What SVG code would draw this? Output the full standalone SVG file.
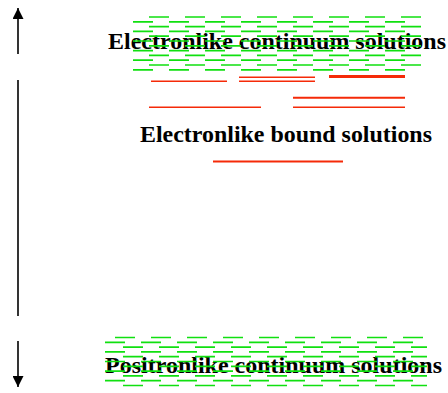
<svg xmlns="http://www.w3.org/2000/svg" width="448" height="393" viewBox="0 0 448 393">
<defs>
<style>
.lbl{font-family:"Liberation Serif","Times New Roman",serif;font-weight:bold;font-size:22.5px;fill:#000}
.g{stroke:#10e010;stroke-width:1.7;stroke-dasharray:20 16;fill:none}
.r{stroke:#f52a08;fill:none}
.ax{stroke:#000;stroke-width:1.6;fill:none}
</style>
<marker id="ah" viewBox="0 0 10 10" refX="10" refY="5" markerWidth="11" markerHeight="11" markerUnits="userSpaceOnUse" orient="auto">
<path d="M0,0 L10,5 L0,10 Z" fill="#000"/>
</marker>
</defs>
<rect width="448" height="393" fill="#fff"/>
<g id="connectors">
<line class="ax" x1="18" y1="54" x2="18" y2="8" marker-end="url(#ah)"/>
<line class="ax" x1="18" y1="80" x2="18" y2="316"/>
<line class="ax" x1="18" y1="341" x2="18" y2="387" marker-end="url(#ah)"/>
</g>
<g id="electron-continuum">
<text class="lbl" x="108" y="48.5" textLength="338" lengthAdjust="spacingAndGlyphs">Electronlike continuum solutions</text>
<line class="g" x1="149" y1="17" x2="421" y2="17"/>
<line class="g" x1="133" y1="21.8" x2="405" y2="21.8"/>
<line class="g" x1="149" y1="26.6" x2="421" y2="26.6"/>
<line class="g" x1="133" y1="31.4" x2="405" y2="31.4"/>
<line class="g" x1="149" y1="36.2" x2="421" y2="36.2"/>
<line class="g" x1="133" y1="41" x2="405" y2="41"/>
<line class="g" x1="149" y1="45.8" x2="421" y2="45.8"/>
<line class="g" x1="133" y1="50.6" x2="405" y2="50.6"/>
<line class="g" x1="149" y1="55.4" x2="421" y2="55.4"/>
<line class="g" x1="133" y1="60.2" x2="405" y2="60.2"/>
<line class="g" x1="149" y1="65" x2="421" y2="65"/>
<line class="g" x1="133" y1="69.8" x2="405" y2="69.8"/>
</g>
<g id="bound-levels">
<line class="r" stroke-width="2.8" x1="329" y1="76.5" x2="405" y2="76.5"/>
<line class="r" stroke-width="1.6" x1="239" y1="77.3" x2="315" y2="77.3"/>
<line class="r" stroke-width="1.6" x1="151" y1="81.3" x2="227" y2="81.3"/>
<line class="r" stroke-width="1.6" x1="239" y1="81.3" x2="315" y2="81.3"/>
<line class="r" stroke-width="2" x1="293" y1="97.7" x2="405" y2="97.7"/>
<line class="r" stroke-width="1.6" x1="149" y1="107.3" x2="261" y2="107.3"/>
<line class="r" stroke-width="1.6" x1="293" y1="107.3" x2="405" y2="107.3"/>
<line class="r" stroke-width="1.8" x1="213" y1="161.5" x2="343" y2="161.5"/>
</g>
<g id="electron-bound">
<text class="lbl" x="140" y="141.5" textLength="292" lengthAdjust="spacingAndGlyphs">Electronlike bound solutions</text>
</g>
<g id="positron-continuum">
<text class="lbl" x="105" y="372.5" textLength="337" lengthAdjust="spacingAndGlyphs">Positronlike continuum solutions</text>
<line class="g" x1="115" y1="337.5" x2="423" y2="337.5"/>
<line class="g" x1="105" y1="342.3" x2="427" y2="342.3"/>
<line class="g" x1="123" y1="347.1" x2="427" y2="347.1"/>
<line class="g" x1="105" y1="351.9" x2="427" y2="351.9"/>
<line class="g" x1="123" y1="356.7" x2="427" y2="356.7"/>
<line class="g" x1="105" y1="361.5" x2="427" y2="361.5"/>
<line class="g" x1="123" y1="366.3" x2="427" y2="366.3"/>
<line class="g" x1="105" y1="371.1" x2="427" y2="371.1"/>
<line class="g" x1="123" y1="375.9" x2="427" y2="375.9"/>
<line class="g" x1="105" y1="380.7" x2="427" y2="380.7"/>
<line class="g" x1="123" y1="385.5" x2="427" y2="385.5"/>
</g>
</svg>
